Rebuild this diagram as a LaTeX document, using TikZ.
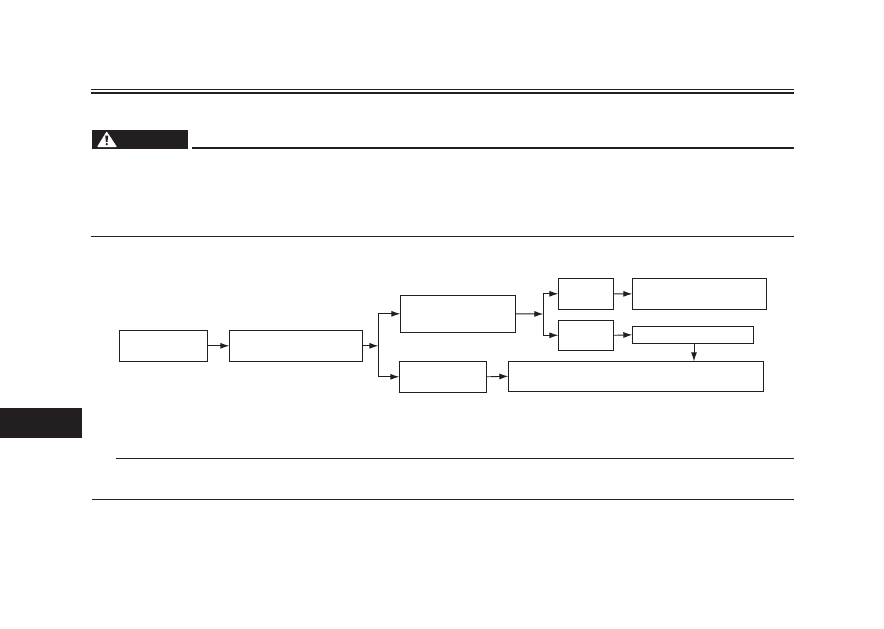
\documentclass[tikz,border=0pt]{standalone}
\usetikzlibrary{arrows.meta}
\definecolor{ink}{HTML}{231F20}
\tikzset{
  flowbox/.style={draw=ink,line width=0.9pt,inner sep=0pt,outer sep=0pt,anchor=north west},
  link/.style={draw=ink,line width=0.9pt},
  flowarrow/.style={link,-{Latex[length=9pt,width=6pt]}},
  thinrule/.style={draw=ink,line width=1pt},
  thickrule/.style={draw=ink,line width=2pt}
}
\begin{document}
\begin{tikzpicture}[x=1pt,y=-1pt]
\useasboundingbox (0,0) rectangle (884,629);
% page furniture
\draw[thinrule] (91,89.3) -- (793.5,89.3);
\draw[draw=ink,line width=2.2pt] (91,92.8) -- (793.5,92.8);
\fill[ink] (92,130) rectangle (188,149);
\fill[white,rounded corners=0.8pt] (106.7,131.3) -- (117,147) -- (97,147) -- cycle;
\fill[ink] (105.2,135.5) -- (108.2,135.5) -- (107.5,142) -- (105.9,142) -- cycle;
\fill[ink] (106.7,144.1) circle (1.3);
\draw[thickrule] (192,147.8) -- (793.5,147.8);
\draw[thinrule] (91,236.2) -- (793.5,236.2);
\fill[ink] (0,408) rectangle (82,437.7);
\draw[thinrule] (116,458.3) -- (793.5,458.3);
\draw[thinrule] (92,499.2) -- (793.5,499.2);
% boxes
\node[flowbox,minimum width=88.4pt,minimum height=31pt] (a) at (119.3,330.3) {};
\node[flowbox,minimum width=133.4pt,minimum height=31pt] (b) at (229.3,330.3) {};
\node[flowbox,minimum width=115pt,minimum height=37pt] (c) at (400.3,295.3) {};
\node[flowbox,minimum width=87.2pt,minimum height=31pt] (d) at (399.3,361.3) {};
\node[flowbox,minimum width=55.4pt,minimum height=31pt] (e) at (558.3,278.3) {};
\node[flowbox,minimum width=55.4pt,minimum height=30pt] (f) at (558.3,320.3) {};
\node[flowbox,minimum width=133.7pt,minimum height=31.2pt] (g) at (632.3,278.3) {};
\node[flowbox,minimum width=121pt,minimum height=17pt] (h) at (632.3,326.3) {};
\node[flowbox,minimum width=255pt,minimum height=30pt] (i) at (508.3,361.3) {};
% junctions
\coordinate (j1) at (378.3,345.8);
\coordinate (j2) at (543.3,314);
\coordinate (hx) at (694,343.3);
% connectors
\draw[flowarrow] (a.east) -- (b.west);
\draw[flowarrow] (b.east) -- (j1);
\draw[flowarrow] (j1) |- (c.west);
\draw[flowarrow] (j1) |- (d.west);
\draw[flowarrow] (c.east) -- (j2);
\draw[flowarrow] (j2) |- (e.west);
\draw[flowarrow] (j2) |- (f.west);
\draw[flowarrow] (e.east) -- (g.west);
\draw[flowarrow] (f.east) -- (h.west);
\draw[flowarrow] (d.east) -- (i.west);
\draw[flowarrow] (hx) -- (hx |- i.north);
\end{tikzpicture}
\end{document}
